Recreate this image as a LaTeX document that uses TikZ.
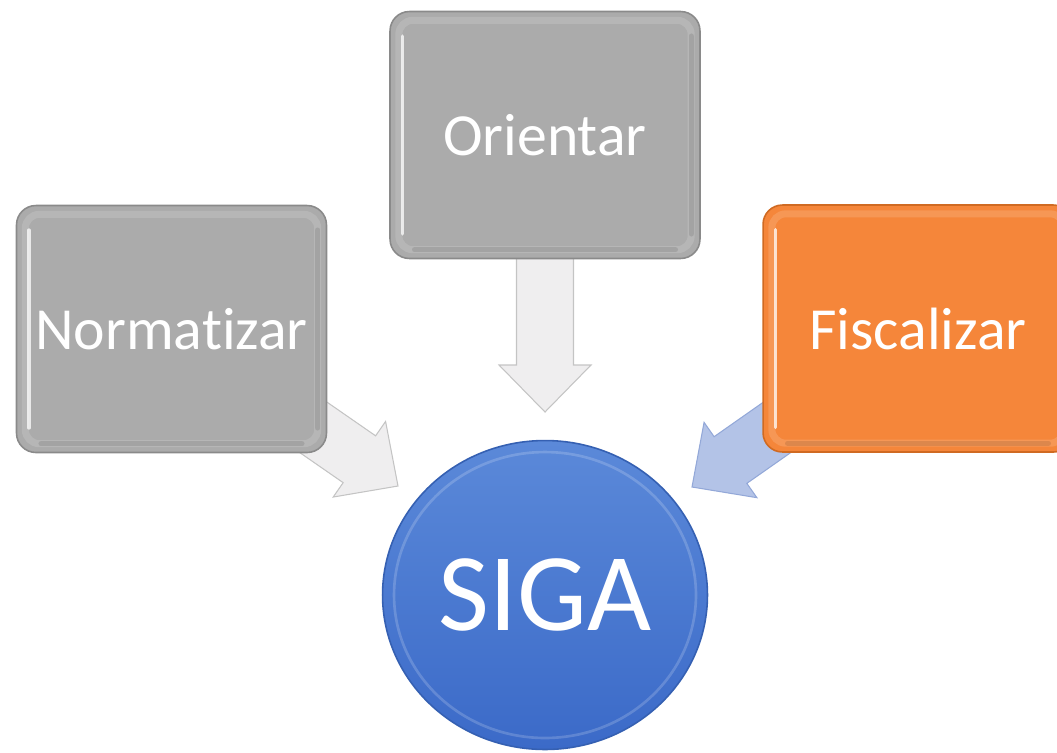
\documentclass[tikz,border=0pt]{standalone}
\usepackage{fontspec}
\setmainfont{Carlito}[Ligatures=NoCommon]
\usetikzlibrary{calc,shapes.geometric,backgrounds}
\definecolor{boxgray}{HTML}{ABABAB}
\definecolor{boxedge}{HTML}{8A8A8A}
\definecolor{boxorange}{HTML}{F5863A}
\definecolor{orangeedge}{HTML}{D06A22}
\definecolor{circtop}{HTML}{5B89D9}
\definecolor{circbot}{HTML}{3B6AC8}
\definecolor{circedge}{HTML}{3560B2}
\definecolor{arrgray}{HTML}{EFEEEF}
\definecolor{arrgrayedge}{HTML}{C4C4C4}
\definecolor{arrblue}{HTML}{B3C3E7}
\definecolor{arrblueedge}{HTML}{93A8D8}
\newcommand\blockarr[3]{%
  \path coordinate (ba-h) at ($(#2)!0.94cm!(#1)$);
  \draw[#3] ($(#1)!0.57cm!90:(#2)$) -- ($(ba-h)!0.57cm!90:(#2)$) -- ($(ba-h)!0.92cm!90:(#2)$) -- (#2)
    -- ($(ba-h)!0.92cm!-90:(#2)$) -- ($(ba-h)!0.57cm!-90:(#2)$) -- ($(#1)!0.57cm!-90:(#2)$) -- cycle;}
\tikzset{
  bevel/.style={path picture={
    \draw[white,opacity=.14,line width=4pt,rounded corners=8pt]
      ([shift={(5pt,-5pt)}]path picture bounding box.north west) rectangle
      ([shift={(-5pt,5pt)}]path picture bounding box.south east);
    \draw[white,opacity=.75,line width=2pt,line cap=round]
      ([shift={(7pt,-14pt)}]path picture bounding box.north west) --
      ([shift={(7pt,14pt)}]path picture bounding box.south west);
    \draw[black,opacity=.10,line width=3pt,line cap=round]
      ([shift={(-5pt,-14pt)}]path picture bounding box.north east) --
      ([shift={(-5pt,14pt)}]path picture bounding box.south east);
    \draw[black,opacity=.10,line width=3pt,line cap=round]
      ([shift={(14pt,5pt)}]path picture bounding box.south west) --
      ([shift={(-14pt,5pt)}]path picture bounding box.south east);}},
  card/.style={rectangle, rounded corners=11pt, minimum width=6.2cm, minimum height=4.94cm,
    line width=0.9pt, text=white, font=\fontsize{34}{40}\selectfont, bevel},
  graycard/.style={card, fill=boxgray, draw=boxedge},
  orangecard/.style={card, fill=boxorange, draw=orangeedge},
  hub/.style={ellipse, minimum width=6.5cm, minimum height=6.18cm, inner sep=0pt,
    top color=circtop, bottom color=circbot, draw=circedge, line width=0.9pt,
    text=white, font=\fontsize{63}{70}\selectfont,
    path picture={
      \draw[white,opacity=.18,line width=1.5pt]
        (path picture bounding box.center) ellipse [x radius=3.02cm, y radius=2.86cm];}},
  grayarrow/.style={fill=arrgray, draw=arrgrayedge, line width=0.6pt, line join=miter},
  bluearrow/.style={fill=arrblue, draw=arrblueedge, line width=0.6pt, line join=miter}
}
\begin{document}
\begin{tikzpicture}[x=0.02cm,y=-0.02cm]
\useasboundingbox (0,0) rectangle (1057,752);
\clip (0,0) rectangle (1057,752);
\node[graycard] (norm) at (171.5,329) {Normatizar};
\node[graycard] (orie) at (545,135) {Orientar};
\node[orangecard] (fisc) at (918,328.5) {Fiscalizar};
\node[hub] (siga) at (545,595) {SIGA};
\coordinate (tipN) at (398,486);
\coordinate (tipO) at (545,412);
\coordinate (tipF) at (692,487);
\begin{scope}[on background layer]
  \blockarr{norm.center}{tipN}{grayarrow}
  \blockarr{orie.center}{tipO}{grayarrow}
  \blockarr{fisc.center}{tipF}{bluearrow}
\end{scope}
\end{tikzpicture}
\end{document}
